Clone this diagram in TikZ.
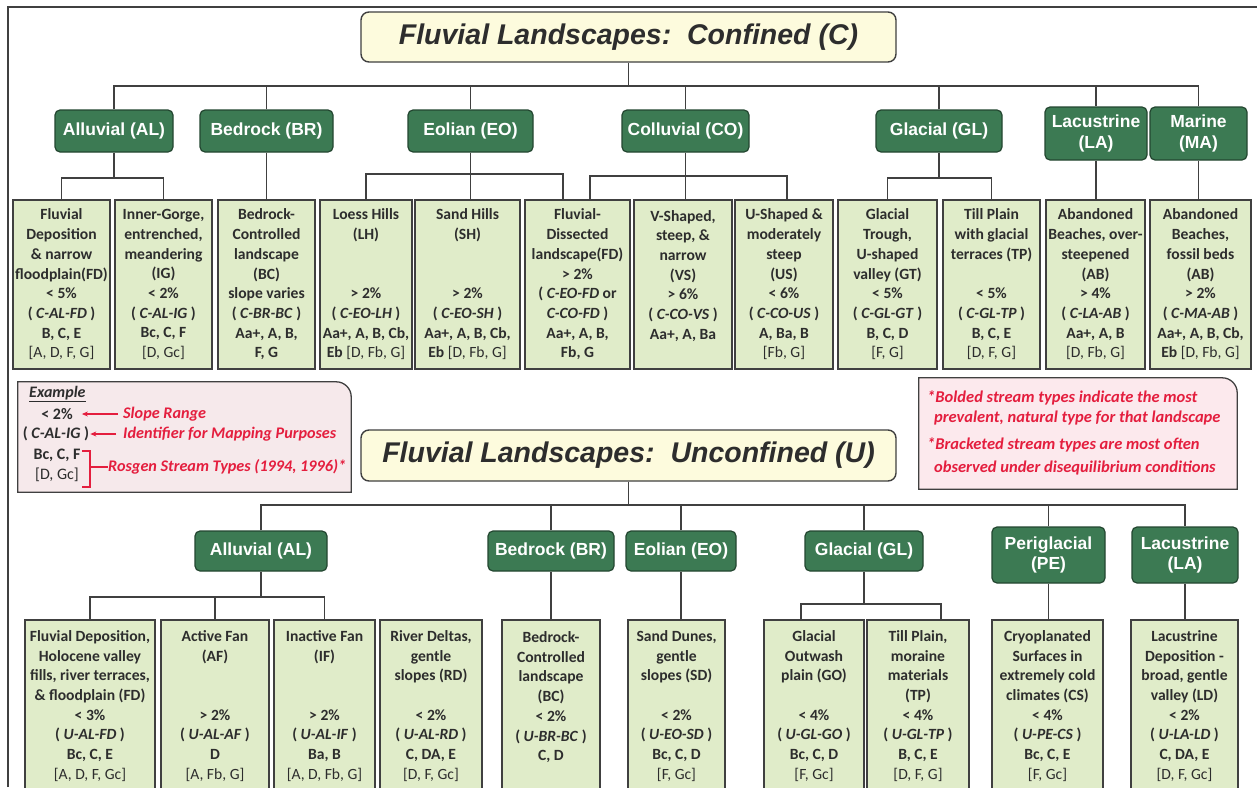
\documentclass[tikz,border=0pt]{standalone}
\usepackage{fontspec}
\setmainfont{Carlito}
\newfontfamily\arialf{Liberation Sans}
\usetikzlibrary{arrows.meta}
\definecolor{titlefill}{RGB}{253,251,221}
\definecolor{catfill}{RGB}{60,122,83}
\definecolor{catdraw}{RGB}{35,70,48}
\definecolor{leaffill}{RGB}{224,236,201}
\definecolor{linegray}{RGB}{64,64,64}
\definecolor{txtgray}{RGB}{45,45,45}
\definecolor{exfill}{RGB}{246,233,235}
\definecolor{notefill}{RGB}{252,233,237}
\definecolor{notered}{RGB}{228,30,62}
\newcommand\Lbrk[1]{{\mdseries #1}}
\newcommand\Lid[1]{\textit{#1}}
\newcommand\boxat[7]{%
  \pgfmathsetmacro\BXw{#4-#3}\pgfmathsetmacro\BXh{#6-#5}%
  \pgfmathsetmacro\BXcx{(#3+#4)/2}\pgfmathsetmacro\BXcy{(#5+#6)/2}%
  \node[#1, minimum width=\BXw pt, minimum height=\BXh pt] (#2) at (\BXcx,\BXcy) {#7};}
\tikzset{
  leafbox/.style={draw=linegray, line width=1.3pt, fill=leaffill, inner sep=0pt, align=center, text=txtgray, font=\fontsize{15.6}{19.7}\selectfont\bfseries},
  catbox/.style={draw=catdraw, line width=1.2pt, fill=catfill, rounded corners=5pt, inner sep=0pt, align=center, text=white, font=\arialf\fontsize{17.5}{20.5}\selectfont\bfseries},
  titlebox/.style={draw=linegray, line width=1.4pt, fill=titlefill, rounded corners=8pt, inner sep=0pt, text=txtgray, font=\arialf\fontsize{28.5}{32}\selectfont\bfseries\itshape},
  conn/.style={draw=linegray, line width=1.2pt},
  boxline/.style={draw=linegray, line width=1.3pt},
  redtxt/.style={text=notered, inner sep=0pt, font=\fontsize{16.2}{19}\selectfont\bfseries\itshape},
  notetxt/.style={text=notered, inner sep=0pt, font=\fontsize{16.5}{19}\selectfont\bfseries\itshape},
  extxt/.style={text=txtgray, inner sep=0pt, font=\fontsize{16}{19}\selectfont\bfseries},
  redarr/.style={draw=notered, line width=1.1pt, -{Stealth[length=6pt,width=5pt]}},
  redline/.style={draw=notered, line width=1.1pt}
}
\begin{document}
\begin{tikzpicture}[x=1pt,y=-1pt]
\useasboundingbox (0,0) rectangle (1257,787);
\fill[white] (0,0) rectangle (1257,787);
% frame
\coordinate (frBL) at (8,787); \coordinate (frTL) at (8,7); \coordinate (frTR) at (1257,7);
\draw[conn] (frBL) -- (frTL) -- (frTR);

% ================= CONFINED =================
\boxat{titlebox}{t1}{361}{896}{12}{62}{Fluvial Landscapes:\ \ Confined (C)}
\boxat{catbox}{cAL}{55}{173}{110}{152}{Alluvial (AL)}
\boxat{catbox}{cBR}{200}{333}{110}{152}{Bedrock (BR)}
\boxat{catbox}{cEO}{408}{533}{110}{152}{Eolian (EO)}
\boxat{catbox}{cCO}{622}{749}{110}{152}{Colluvial (CO)}
\boxat{catbox}{cGL}{876}{1002}{110}{152}{Glacial (GL)}
\boxat{catbox}{cLA}{1045}{1147}{107}{160}{Lacustrine\\(LA)}
\boxat{catbox}{cMA}{1150}{1247}{107}{160}{Marine\\(MA)}

\boxat{leafbox}{lFD}{13}{110}{200}{369}{Fluvial\\Deposition\\\& narrow\\floodplain(FD)\\< 5\%\\( \Lid{C-AL-FD} )\\B, C, E\\\Lbrk{[A, D, F, G]}}
\boxat{leafbox}{lIG}{115}{212}{200}{369}{Inner-Gorge,\\entrenched,\\meandering\\(IG)\\< 2\%\\( \Lid{C-AL-IG} )\\Bc, C, F\\\Lbrk{[D, Gc]}}
\boxat{leafbox}{lBC}{218}{315}{200}{369}{Bedrock-\\Controlled\\landscape\\(BC)\\slope varies\\( \Lid{C-BR-BC} )\\Aa+, A, B,\\F, G}
\boxat{leafbox}{lLH}{320}{412}{200}{369}{Loess Hills\\(LH)\\~\\~\\> 2\%\\( \Lid{C-EO-LH} )\\Aa+, A, B, Cb,\\Eb \Lbrk{[D, Fb, G]}}
\boxat{leafbox}{lSH}{415}{520}{200}{369}{Sand Hills\\(SH)\\~\\~\\> 2\%\\( \Lid{C-EO-SH} )\\Aa+, A, B, Cb,\\Eb \Lbrk{[D, Fb, G]}}
\boxat{leafbox}{lFDs}{525}{630}{200}{369}{Fluvial-\\Dissected\\landscape(FD)\\> 2\%\\( \Lid{C-EO-FD} or\\\Lid{C-CO-FD} )\\Aa+, A, B,\\Fb, G}
\boxat{leafbox}{lVS}{634}{732}{200}{369}{V-Shaped,\\steep, \&\\narrow\\(VS)\\> 6\%\\( \Lid{C-CO-VS} )\\Aa+, A, Ba\\~}
\boxat{leafbox}{lUS}{735}{833}{200}{369}{U-Shaped \&\\moderately\\steep\\(US)\\< 6\%\\( \Lid{C-CO-US} )\\A, Ba, B\\\Lbrk{[Fb, G]}}
\boxat{leafbox}{lGT}{838}{937}{200}{369}{Glacial\\Trough,\\U-shaped\\valley (GT)\\< 5\%\\( \Lid{C-GL-GT} )\\B, C, D\\\Lbrk{[F, G]}}
\boxat{leafbox}{lTP}{943}{1040}{200}{369}{Till Plain\\with glacial\\terraces (TP)\\~\\< 5\%\\( \Lid{C-GL-TP} )\\B, C, E\\\Lbrk{[D, F, G]}}
\boxat{leafbox}{lAB1}{1046}{1145}{200}{369}{Abandoned\\Beaches, over-\\steepened\\(AB)\\> 4\%\\( \Lid{C-LA-AB} )\\Aa+, A, B\\\Lbrk{[D, Fb, G]}}
\boxat{leafbox}{lAB2}{1150}{1251}{200}{369}{Abandoned\\Beaches,\\fossil beds\\(AB)\\> 2\%\\( \Lid{C-MA-AB} )\\Aa+, A, B, Cb,\\Eb \Lbrk{[D, Fb, G]}}

\coordinate (busT) at (628,86);
\coordinate (alT) at (0,178);
\coordinate (eoBus) at (563,174);
\coordinate (coL) at (590,176); \coordinate (coR) at (787,176);
\coordinate (glT) at (0,178);
\draw[conn] (t1.south) -- (t1.south |- busT);
\draw[conn] (cAL.north) -- (cAL.north |- busT) -- (cMA.north |- busT) -- (cMA.north);
\foreach \n in {cBR,cEO,cCO,cGL,cLA} \draw[conn] (\n.north) -- (\n.north |- busT);
\draw[conn] (cAL.south) -- (cAL.south |- alT);
\draw[conn] (lFD.north) -- (lFD.north |- alT) -| (lIG.north);
\draw[conn] (cBR.south) -- (cBR.south |- lBC.north);
\draw[conn] (cEO.south) -- (cEO.south |- lSH.north);
\draw[conn] (lLH.north) -- (lLH.north |- eoBus) -- (eoBus) -- (eoBus |- lFDs.north);
\draw[conn] (cCO.south) -- (cCO.south |- lVS.north);
\draw[conn] (coL |- lFDs.north) -- (coL) -- (coR) -- (coR |- lUS.north);
\draw[conn] (cGL.south) -- (cGL.south |- glT);
\draw[conn] (lGT.north) -- (lGT.north |- glT) -| (lTP.north);
\draw[conn] (cLA.south) -- (cLA.south |- lAB1.north);
\draw[conn] (cMA.south) -- (cMA.south |- lAB2.north);

% ================= EXAMPLE BOX =================
\boxat{inner sep=0pt}{exBox}{18}{351}{382}{492}{}
\filldraw[fill=exfill, boxline] (exBox.south west) -- (exBox.north west) -- ([xshift=-15pt]exBox.north east) arc[start angle=90, end angle=0, radius=15pt] -- (exBox.south east) -- cycle;
\node[extxt, anchor=west, font=\fontsize{16}{19}\selectfont\bfseries\itshape] (exT) at (29,394) {\underline{Example}};
\node[extxt] (ex2) at (57,414) {< 2\%};
\node[redtxt, anchor=west] (exSR) at (123,414) {Slope Range};
\node[extxt] (exId) at (56,434) {( \Lid{C-AL-IG} )};
\node[redtxt, anchor=west] (exIM) at (123,434) {Identifier for Mapping Purposes};
\node[extxt] (exBc) at (57,455) {Bc, C, F};
\node[extxt, font=\fontsize{16}{19}\selectfont] (exDG) at (57,475) {[D, Gc]};
\node[redtxt, anchor=west] (exRos) at (108,467) {Rosgen Stream Types (1994, 1996)*};
\draw[redarr, shorten <=5pt, shorten >=9pt] (exSR.west) -- (ex2.east);
\draw[redarr, shorten <=7pt, shorten >=1pt] (exIM.west) -- (exId.east);
\coordinate (brTL) at (82,451); \coordinate (brTR) at (90,451);
\coordinate (brBL) at (82,487); \coordinate (brBR) at (90,487);
\coordinate (brM) at (90,467);
\draw[redline] (brTL) -- (brTR) -- (brBR) -- (brBL);
\draw[redline] (brM) -- (exRos.west);

% ================= NOTE BOX =================
\boxat{inner sep=0pt}{noteBox}{919}{1237}{378}{489}{}
\filldraw[fill=notefill, boxline] (noteBox.south west) -- (noteBox.north west) -- ([xshift=-15pt]noteBox.north east) arc[start angle=90, end angle=0, radius=15pt] -- (noteBox.south east) -- cycle;
\node[notetxt, anchor=west] (n1) at (927,398) {*Bolded stream types indicate the most};
\node[notetxt, anchor=west] (n2) at (934,418) {prevalent, natural type for that landscape};
\node[notetxt, anchor=west] (n3) at (927,445) {*Bracketed stream types are most often};
\node[notetxt, anchor=west] (n4) at (934,468) {observed under disequilibrium conditions};

% ================= UNCONFINED =================
\boxat{titlebox}{t2}{361}{896}{430}{481}{Fluvial Landscapes:\ \ Unconfined (U)}
\boxat{catbox}{bAL}{195}{327}{531}{571}{Alluvial (AL)}
\boxat{catbox}{bBR}{488}{614}{531}{571}{Bedrock (BR)}
\boxat{catbox}{bEO}{626}{736}{531}{571}{Eolian (EO)}
\boxat{catbox}{bGL}{805}{923}{531}{571}{Glacial (GL)}
\boxat{catbox}{bPE}{992}{1105}{527}{583}{Periglacial\\(PE)}
\boxat{catbox}{bLA}{1132}{1238}{527}{583}{Lacustrine\\(LA)}

\boxat{leafbox}{uFD}{25}{155}{620}{792}{Fluvial Deposition,\\Holocene valley\\fills, river terraces,\\\& floodplain (FD)\\< 3\%\\( \Lid{U-AL-FD} )\\Bc, C, E\\\Lbrk{[A, D, F, Gc]}}
\boxat{leafbox}{uAF}{161}{269}{620}{792}{Active Fan\\(AF)\\~\\~\\> 2\%\\( \Lid{U-AL-AF} )\\D\\\Lbrk{[A, Fb, G]}}
\boxat{leafbox}{uIF}{274}{375}{620}{792}{Inactive Fan\\(IF)\\~\\~\\> 2\%\\( \Lid{U-AL-IF} )\\Ba, B\\\Lbrk{[A, D, Fb, G]}}
\boxat{leafbox}{uRD}{380}{482}{620}{792}{River Deltas,\\gentle\\slopes (RD)\\~\\< 2\%\\( \Lid{U-AL-RD} )\\C, DA, E\\\Lbrk{[D, F, Gc]}}
\boxat{leafbox}{uBC}{502}{600}{620}{792}{Bedrock-\\Controlled\\landscape\\(BC)\\< 2\%\\( \Lid{U-BR-BC} )\\C, D\\~}
\boxat{leafbox}{uSD}{628}{725}{620}{792}{Sand Dunes,\\gentle\\slopes (SD)\\~\\< 2\%\\( \Lid{U-EO-SD} )\\Bc, C, D\\\Lbrk{[F, Gc]}}
\boxat{leafbox}{uGO}{764}{864}{620}{792}{Glacial\\Outwash\\plain (GO)\\~\\< 4\%\\( \Lid{U-GL-GO} )\\Bc, C, D\\\Lbrk{[F, Gc]}}
\boxat{leafbox}{uTP}{867}{969}{620}{792}{Till Plain,\\moraine\\materials\\(TP)\\< 4\%\\( \Lid{U-GL-TP} )\\B, C, E\\\Lbrk{[D, F, G]}}
\boxat{leafbox}{uCS}{992}{1103}{620}{792}{Cryoplanated\\Surfaces in\\extremely cold\\climates (CS)\\< 4\%\\( \Lid{U-PE-CS} )\\Bc, C, E\\\Lbrk{[F, Gc]}}
\boxat{leafbox}{uLD}{1131}{1238}{620}{792}{Lacustrine\\Deposition -\\broad, gentle\\valley (LD)\\< 2\%\\( \Lid{U-LA-LD} )\\C, DA, E\\\Lbrk{[D, F, Gc]}}

\coordinate (busB) at (628,505);
\coordinate (alB) at (0,597);
\coordinate (glL) at (801,604); \coordinate (glR) at (941,604);
\draw[conn] (t2.south) -- (t2.south |- busB);
\draw[conn] (bAL.north) -- (bAL.north |- busB) -- (bLA.north |- busB) -- (bLA.north);
\foreach \n in {bBR,bEO,bGL,bPE} \draw[conn] (\n.north) -- (\n.north |- busB);
\draw[conn] (bAL.south) -- (bAL.south |- alB);
\draw[conn] (uFD.north) -- (uFD.north |- alB) -- (uIF.north |- alB) -- (uIF.north);
\draw[conn] (uAF.north) -- (uAF.north |- alB);
\draw[conn] (bBR.south) -- (bBR.south |- uBC.north);
\draw[conn] (bEO.south) -- (bEO.south |- uSD.north);
\draw[conn] (bGL.south) -- (bGL.south |- glL);
\draw[conn] (glL |- uGO.north) -- (glL) -- (glR) -- (glR |- uTP.north);
\draw[conn] (bPE.south) -- (bPE.south |- uCS.north);
\draw[conn] (bLA.south) -- (bLA.south |- uLD.north);
\end{tikzpicture}
\end{document}
